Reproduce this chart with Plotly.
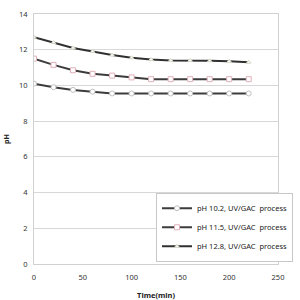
import plotly.graph_objects as go

time = [0, 20, 40, 60, 80, 100, 120, 140, 160, 180, 200, 220]
ph_102 = [10.1, 9.9, 9.75, 9.65, 9.55, 9.55, 9.55, 9.55, 9.55, 9.55, 9.55, 9.55]
ph_115 = [11.5, 11.15, 10.85, 10.65, 10.55, 10.45, 10.35, 10.35, 10.35, 10.35, 10.35, 10.35]
ph_128 = [12.7, 12.4, 12.1, 11.9, 11.7, 11.55, 11.45, 11.4, 11.4, 11.38, 11.35, 11.3]
names = ["pH 10.2, UV/GAC  process", "pH 11.5, UV/GAC  process", "pH 12.8, UV/GAC  process"]

fig = go.Figure()
fig.add_trace(go.Scatter(x=time, y=ph_102, name=names[0], mode="lines+markers",
                         line=dict(color="#3c3c3c", width=2),
                         marker=dict(symbol="circle", size=5, color="white",
                                     line=dict(color="#c0c0c0", width=1))))
fig.add_trace(go.Scatter(x=time, y=ph_115, name=names[1], mode="lines+markers",
                         line=dict(color="#3c3c3c", width=2),
                         marker=dict(symbol="square", size=5, color="white",
                                     line=dict(color="#e0b0b8", width=1))))
fig.add_trace(go.Scatter(x=time, y=ph_128, name=names[2], mode="lines+markers",
                         line=dict(color="#303030", width=2),
                         marker=dict(symbol="triangle-up", size=4, color="white",
                                     line=dict(color="#d8d8c8", width=1))))

tf = dict(family="Noto Sans, Arial", size=7.5, color="#333333")
fig.update_layout(
    width=300, height=300,
    margin=dict(l=34, r=7, t=14, b=36),
    paper_bgcolor="white", plot_bgcolor="white",
    font=tf,
    showlegend=True,
    legend=dict(x=0.5, y=0.285, xanchor="left", yanchor="top",
                bgcolor="white", bordercolor="#c8c8c8", borderwidth=1,
                font=dict(family="Noto Sans, Arial", size=7.5, color="#222222"),
                tracegroupgap=6, itemwidth=30),
    xaxis=dict(range=[0, 250], tickvals=[0, 50, 100, 150, 200, 250],
               showgrid=False, zeroline=False, showline=True, linecolor="#d0d0d0",
               mirror=True, ticks="", tickfont=tf, ticklabelstandoff=6, automargin=False,
               title=dict(text="<b>Time(min)</b>", standoff=12,
                          font=dict(family="Noto Sans, Arial", size=7.5, color="#222222"))),
    yaxis=dict(range=[0, 14], tickvals=[0, 2, 4, 6, 8, 10, 12, 14],
               showgrid=True, gridcolor="#d8d8d8", gridwidth=1, zeroline=False,
               showline=True, linecolor="#d0d0d0", mirror=True, ticks="",
               tickfont=tf, ticklabelstandoff=4, automargin=False,
               title=dict(text="<b>pH</b>", standoff=8,
                          font=dict(family="Noto Sans, Arial", size=7, color="#222222"))),
)
fig.update_xaxes(tickprefix="<b>", ticksuffix="</b>")
fig.update_yaxes(tickprefix="<b>", ticksuffix="</b>")
fig.write_html("out.html")
